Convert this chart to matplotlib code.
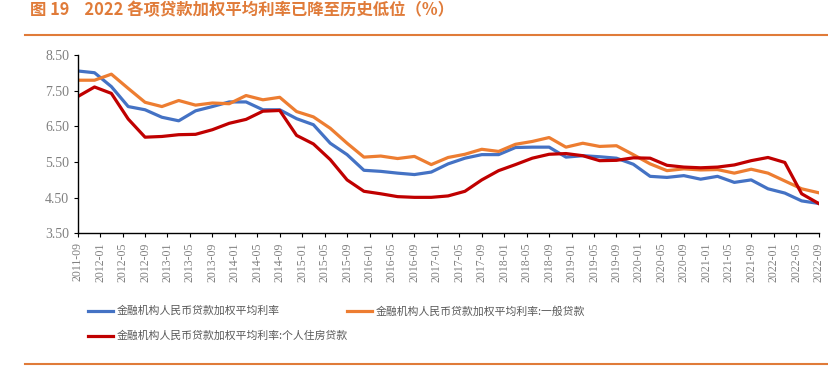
import matplotlib
matplotlib.use("Agg")
import matplotlib.pyplot as plt
from matplotlib.lines import Line2D

plt.rcParams['font.family'] = ['Noto Sans CJK SC', 'DejaVu Sans']

# quarterly, 2011-09 .. 2022-09
quarters = []
for y in range(2011, 2023):
    for m in (3, 6, 9, 12):
        if (y, m) >= (2011, 9) and (y, m) <= (2022, 9):
            quarters.append((y, m))

total = [8.06, 8.01, 7.62, 7.06, 6.97, 6.76, 6.66, 6.94,
         7.06, 7.19, 7.19, 6.97, 6.97, 6.72, 6.55, 6.03,
         5.71, 5.27, 5.24, 5.19, 5.15, 5.22, 5.45, 5.61,
         5.71, 5.71, 5.91, 5.92, 5.92, 5.64, 5.68, 5.65,
         5.61, 5.44, 5.10, 5.07, 5.12, 5.02, 5.10, 4.93,
         5.00, 4.75, 4.63, 4.41, 4.34]
general = [7.80, 7.80, 7.97, 7.57, 7.18, 7.06, 7.23, 7.10,
           7.16, 7.14, 7.37, 7.25, 7.32, 6.92, 6.77, 6.45,
           6.03, 5.64, 5.67, 5.60, 5.66, 5.43, 5.63, 5.72,
           5.86, 5.80, 6.00, 6.08, 6.19, 5.92, 6.03, 5.94,
           5.96, 5.71, 5.45, 5.26, 5.31, 5.28, 5.29, 5.19,
           5.30, 5.19, 4.97, 4.75, 4.64]
mortgage = [7.34, 7.61, 7.43, 6.71, 6.20, 6.22, 6.27, 6.28,
            6.41, 6.59, 6.70, 6.93, 6.95, 6.25, 6.01, 5.57,
            5.00, 4.68, 4.61, 4.53, 4.51, 4.51, 4.55, 4.68,
            5.00, 5.26, 5.43, 5.61, 5.72, 5.74, 5.68, 5.54,
            5.55, 5.62, 5.61, 5.41, 5.36, 5.34, 5.36, 5.42,
            5.54, 5.63, 5.49, 4.61, 4.34]

names = ['金融机构人民币贷款加权平均利率',
         '金融机构人民币贷款加权平均利率:一般贷款',
         '金融机构人民币贷款加权平均利率:个人住房贷款']
colors = ['#4472C4', '#ED7D31', '#C00000']

title = '图 19    2022 各项贷款加权平均利率已降至历史低位（%）'
title_color = '#E07B39'

# months since 2011-09
xs = [(y - 2011) * 12 + m - 9 for y, m in quarters]
tick_pos = list(range(0, 133, 4))
tick_labels = []
for p in tick_pos:
    mm = 9 + p
    yy = 2011 + (mm - 1) // 12
    mm = (mm - 1) % 12 + 1
    tick_labels.append(f'{yy}-{mm:02d}')

fig = plt.figure(figsize=(8.29, 3.79), dpi=100)
ax = fig.add_axes([77.7 / 829, 1 - 233.3 / 379, (818.5 - 77.7) / 829, 178 / 379])

for vals, c in zip([total, general, mortgage], colors):
    ax.plot(xs, vals, color=c, lw=2.3, solid_joinstyle='round')

ax.set_xlim(0, 132)
ax.set_ylim(3.5, 8.5)
ax.set_yticks([3.5, 4.5, 5.5, 6.5, 7.5, 8.5])
ax.set_yticklabels([f'{v:.2f}' for v in [3.5, 4.5, 5.5, 6.5, 7.5, 8.5]],
                   family='Liberation Serif', fontsize=10, color='#808080')
ax.set_xticks(tick_pos)
ax.set_xticklabels(tick_labels, rotation=90, family='Liberation Serif',
                   fontsize=8.5, color='#808080')
ax.tick_params(axis='both', direction='out', length=3, width=0.8, color='black')
ax.tick_params(axis='y', pad=3)
ax.spines['top'].set_visible(False)
ax.spines['right'].set_visible(False)
ax.spines['left'].set_linewidth(1)
ax.spines['bottom'].set_linewidth(1)

# title and rules
fig.text(30 / 829, 1 - 10 / 379, title, color=title_color, fontsize=11.8,
         fontweight='bold', va='center', ha='left')
fig.add_artist(Line2D([25 / 829, 1], [1 - 35 / 379] * 2, color='#E07B39', lw=1.5))
fig.add_artist(Line2D([25 / 829, 1], [1 - 364 / 379] * 2, color='#E07B39', lw=1.5))

# legend
leg_pos = [(88, 311), (347, 311), (88, 336)]
for (lx, ly), name, c in zip(leg_pos, names, colors):
    fy = 1 - ly / 379
    fig.add_artist(Line2D([lx / 829, (lx + 25) / 829], [fy, fy], color=c, lw=2.3))
    fig.text((lx + 29) / 829, fy, name, fontsize=7.8, color='#595959',
             va='center', ha='left')

fig.savefig('out.png', dpi=100)
